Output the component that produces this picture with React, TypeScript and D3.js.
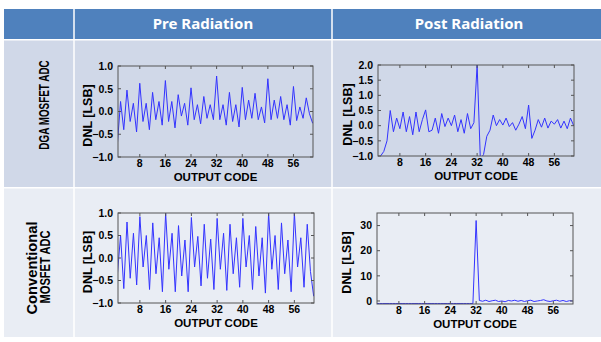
import React from "react";
import * as d3 from "d3";

// output codes on the x axis
const CODES = [
  1, 2, 3, 4, 5, 6, 7, 8, 9, 10, 11, 12, 13, 14, 15, 16, 17, 18, 19, 20, 21, 22, 23, 24, 25, 26, 27, 28, 29, 30, 31,
  32, 33, 34, 35, 36, 37, 38, 39, 40, 41, 42, 43, 44, 45, 46, 47, 48, 49, 50, 51, 52, 53, 54, 55, 56, 57, 58, 59, 60,
  61, 62,
];

// DNL [LSB] per code
const PRE_DGA = [
  -0.72, 0.22, -0.4, 0.47, -0.22, 0.18, -0.45, 0.62, -0.22, 0.18, -0.4, 0.42, -0.18, 0.22, -0.3, 0.68, -0.22, 0.22,
  -0.36, 0.37, -0.1, 0.18, -0.3, 0.52, -0.18, 0.15, -0.27, 0.33, -0.15, 0.15, -0.18, 0.78, -0.18, 0.15, -0.3, 0.42,
  -0.22, 0.15, -0.34, 0.53, -0.18, 0.25, -0.15, 0.4, -0.18, 0.1, -0.25, 0.72, -0.18, 0.25, -0.15, 0.33, -0.18, 0.15,
  -0.3, 0.55, -0.2, 0.1, -0.15, 0.3, -0.05, -0.26,
];
const POST_DGA = [
  -1.6, -1.0, -0.85, -0.5, 0.5, -0.2, 0.25, -0.1, 0.45, -0.2, 0.3, -0.3, 0.45, -0.2, 0.2, 0.52, -0.2, -0.15, 0.25,
  -0.25, 0.4, -0.03, 0.25, 0.0, 0.35, -0.2, 0.2, -0.25, 0.4, -0.1, 0.1, 2.0, -1.1, -0.95, -0.35, -0.15, 0.35, 0.0,
  0.2, 0.02, 0.25, -0.03, 0.1, -0.15, 0.05, 0.3, -0.1, 0.68, -0.42, -0.15, 0.2, -0.05, 0.25, -0.08, 0.15, 0.05, 0.2,
  -0.08, 0.15, -0.1, 0.25, 0.0,
];
const PRE_CONV = [
  -0.38, 0.5, -0.68, 0.8, -0.45, 0.55, -0.6, 0.92, -0.2, 0.5, -0.7, 0.78, -0.35, 0.45, -0.75, 1.0, -0.25, 0.55, -0.75,
  0.72, -0.4, 0.4, -0.75, 0.9, -0.2, 0.48, -0.62, 0.75, -0.45, 0.42, -0.7, 0.88, -0.25, 0.55, -0.72, 0.75, -0.35, 0.45,
  -0.65, 0.88, -0.2, 0.5, -0.7, 0.7, -0.4, 0.45, -0.78, 1.0, -0.25, 0.5, -0.7, 0.78, -0.35, 0.4, -0.75, 1.0, -0.2,
  0.45, -0.65, 0.75, -0.3, -0.85,
];
const POST_CONV = [
  -1, -1, -1, -1, -1, -1, -1, -1, -1, -1, -1, -1, -1, -1, -1, -1, -1, -1, -1, -1, -1, -1, -1, -1, -1, -1, -1, -1, -1,
  -1, -1, 32, 0.2, -0.1, 0.3, -0.2, 0.1, 0.3, -0.2, 0.0, -0.3, 0.2, 0.0, 0.3, -0.1, 0.2, -0.2, 0.1, 0.3, -0.2, 0.0,
  0.2, 0.5, 0.0, -0.2, 0.1, 0.3, -0.1, 0.2, -0.2, 0.1, 0.0,
];

const X_TICKS = [8, 16, 24, 32, 40, 48, 56];
const Y_TICKS_UNIT = [-1, -0.5, 0, 0.5, 1];
const Y_TICKS_POST_DGA = [-1, -0.5, 0, 0.5, 1, 1.5, 2];
const Y_TICKS_POST_CONV = [0, 10, 20, 30];

const COLUMNS = ["Pre Radiation", "Post Radiation"];
const ROW_LABELS = [["DGA MOSFET ADC"], ["Conventional", "MOSFET ADC"]];
const X_TITLE = "OUTPUT CODE";
const Y_TITLE = "DNL [LSB]";

const FONT = "'Liberation Sans', Arial, sans-serif";

type Box = { left: number; right: number; top: number; bottom: number };

function Panel({
  id,
  box,
  values,
  yDomain,
  yTicks,
  fmt,
}: {
  id: string;
  box: Box;
  values: number[];
  yDomain: [number, number];
  yTicks: number[];
  fmt: (v: number) => string;
}) {
  const x = d3.scaleLinear().domain([1.2, 62.1]).range([box.left, box.right]);
  const y = d3.scaleLinear().domain(yDomain).range([box.bottom, box.top]);
  const line = d3
    .line<number>()
    .x((_, i) => x(CODES[i]))
    .y((d) => y(d));
  const tk = 3;
  const cy = (box.top + box.bottom) / 2 + 4;
  return (
    <g fontFamily={FONT} fontWeight="bold" fill="#000">
      <clipPath id={id}>
        <rect x={box.left} y={box.top} width={box.right - box.left} height={box.bottom - box.top} />
      </clipPath>
      <path d={line(values) || ""} fill="none" stroke="#3333ff" strokeWidth={1} clipPath={`url(#${id})`} />
      <rect
        x={box.left}
        y={box.top}
        width={box.right - box.left}
        height={box.bottom - box.top}
        fill="none"
        stroke="#555"
        strokeWidth={1}
      />
      {X_TICKS.map((t) => (
        <g key={"x" + t}>
          <line x1={x(t)} x2={x(t)} y1={box.bottom} y2={box.bottom - tk} stroke="#555" />
          <line x1={x(t)} x2={x(t)} y1={box.top} y2={box.top + tk} stroke="#555" />
          <text x={x(t)} y={box.bottom + 10} fontSize={10.5} textAnchor="middle">
            {t}
          </text>
        </g>
      ))}
      {yTicks.map((t) => (
        <g key={"y" + t}>
          <line x1={box.left} x2={box.left + tk} y1={y(t)} y2={y(t)} stroke="#555" />
          <line x1={box.right} x2={box.right - tk} y1={y(t)} y2={y(t)} stroke="#555" />
          <text x={box.left - 5} y={y(t)} dy="0.36em" fontSize={10.5} textAnchor="end">
            {fmt(t)}
          </text>
        </g>
      ))}
      <text x={(box.left + box.right) / 2} y={box.bottom + 23.5} fontSize={11.5} textAnchor="middle">
        {X_TITLE}
      </text>
      <text
        transform={`translate(${box.left - 26},${cy}) rotate(-90)`}
        fontSize={12.5}
        textAnchor="middle"
      >
        {Y_TITLE}
      </text>
    </g>
  );
}

export default function App() {
  const f1 = d3.format(".1f");
  const f0 = d3.format("d");
  const left = 4,
    c1 = 74,
    c2 = 332,
    right = 608;
  const headTop = 9,
    headBot = 39,
    r1Top = 40.5,
    r1Bot = 187,
    r2Top = 188.5,
    r2Bot = 337;
  return (
    <svg
      width={601}
      height={342}
      style={{ position: "absolute", left: 0, top: 0, background: "#fff" }}
    >
      {/* table cells */}
      <rect x={left} y={headTop} width={right - left} height={headBot - headTop} fill="#4f81bd" />
      <rect x={left} y={r1Top} width={right - left} height={r1Bot - r1Top} fill="#d0d8e8" />
      <rect x={left} y={r2Top} width={right - left} height={r2Bot - r2Top} fill="#e9edf4" />
      <line x1={c1} x2={c1} y1={headTop} y2={r2Bot} stroke="#fff" strokeWidth={1.5} />
      <line x1={c2} x2={c2} y1={headTop} y2={r2Bot} stroke="#fff" strokeWidth={1.5} />

      {COLUMNS.map((c, i) => (
        <text
          key={c}
          x={i === 0 ? (c1 + c2) / 2 : 469}
          y={29}
          fill="#fff"
          fontFamily="'Noto Sans', sans-serif"
          fontWeight="bold"
          fontSize={15}
          textAnchor="middle"
        >
          {c}
        </text>
      ))}

      {/* row labels: condensed bold text, squeezed along its length */}
      <g fontFamily={FONT} fontWeight="bold" fill="#000" fontSize={15}>
        <text transform="translate(49,105) rotate(-90) scale(0.66,1)" textAnchor="middle">
          {ROW_LABELS[0][0]}
        </text>
        <text transform="translate(36.5,268) rotate(-90) scale(0.98,1)" textAnchor="middle">
          {ROW_LABELS[1][0]}
        </text>
        <text transform="translate(49.5,267) rotate(-90) scale(0.74,1)" textAnchor="middle">
          {ROW_LABELS[1][1]}
        </text>
      </g>

      <Panel
        id="c1"
        box={{ left: 118, right: 313, top: 66, bottom: 157 }}
        values={PRE_DGA}
        yDomain={[-1, 1]}
        yTicks={Y_TICKS_UNIT}
        fmt={f1}
      />
      <Panel
        id="c2"
        box={{ left: 378, right: 574, top: 65, bottom: 156 }}
        values={POST_DGA}
        yDomain={[-1, 2]}
        yTicks={Y_TICKS_POST_DGA}
        fmt={f1}
      />
      <Panel
        id="c3"
        box={{ left: 118, right: 314, top: 213, bottom: 303 }}
        values={PRE_CONV}
        yDomain={[-1, 1]}
        yTicks={Y_TICKS_UNIT}
        fmt={f1}
      />
      <Panel
        id="c4"
        box={{ left: 377, right: 573, top: 213, bottom: 304 }}
        values={POST_CONV}
        yDomain={[-1.2, 35]}
        yTicks={Y_TICKS_POST_CONV}
        fmt={f0}
      />
    </svg>
  );
}
